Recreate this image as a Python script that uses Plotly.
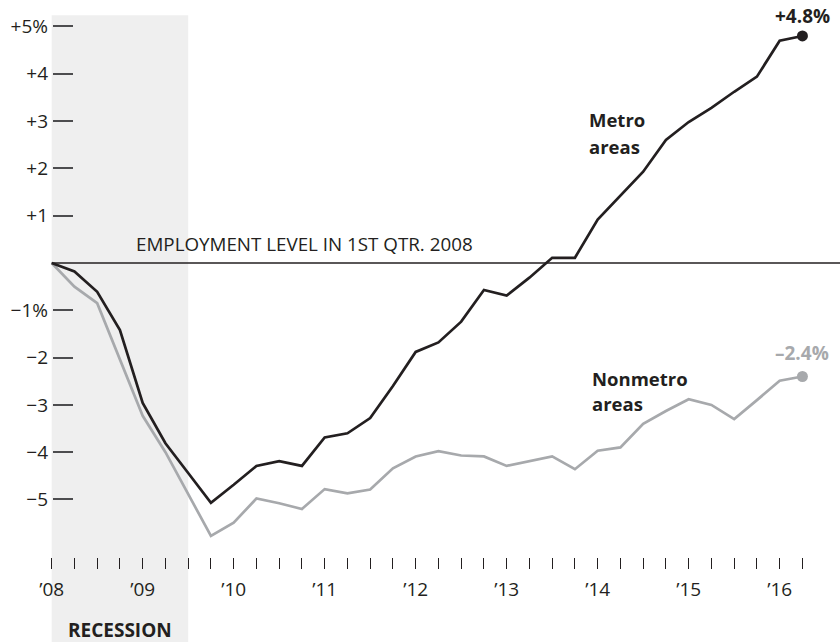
import plotly.graph_objects as go

quarters = [
    "2008Q1", "2008Q2", "2008Q3", "2008Q4",
    "2009Q1", "2009Q2", "2009Q3", "2009Q4",
    "2010Q1", "2010Q2", "2010Q3", "2010Q4",
    "2011Q1", "2011Q2", "2011Q3", "2011Q4",
    "2012Q1", "2012Q2", "2012Q3", "2012Q4",
    "2013Q1", "2013Q2", "2013Q3", "2013Q4",
    "2014Q1", "2014Q2", "2014Q3", "2014Q4",
    "2015Q1", "2015Q2", "2015Q3", "2015Q4",
    "2016Q1", "2016Q2",
]

metro = [
    0.00, -0.18, -0.61, -1.42, -2.96, -3.81, -4.44, -5.07,
    -4.69, -4.29, -4.19, -4.29, -3.69, -3.60, -3.28, -2.60,
    -1.88, -1.68, -1.24, -0.57, -0.69, -0.31, 0.11, 0.11,
    0.92, 1.42, 1.93, 2.60, 2.98, 3.28, 3.62, 3.94,
    4.70, 4.80,
]

nonmetro = [
    0.00, -0.50, -0.85, -2.02, -3.23, -4.00, -4.87, -5.77,
    -5.49, -4.98, -5.08, -5.20, -4.78, -4.87, -4.79, -4.34,
    -4.09, -3.98, -4.07, -4.09, -4.29, -4.19, -4.09, -4.36,
    -3.97, -3.90, -3.40, -3.13, -2.88, -3.00, -3.30, -2.90,
    -2.49, -2.40,
]

y_ticks = [-5, -4, -3, -2, -1, 1, 2, 3, 4, 5]
y_labels = ["\u22125", "\u22124", "\u22123", "\u22122", "\u22121%",
            "+1", "+2", "+3", "+4", "+5%"]

recession = ("2008Q1", "2009Q3")


def qpos(q):
    return int(q[:4]) + (int(q[-1]) - 1) / 4


x = [qpos(q) for q in quarters]
x_labels = ["\u2019" + q[2:4] if q.endswith("Q1") else "" for q in quarters]

BLACK = "#231f20"
GRAY = "#a7a9ac"
FONT = "Open Sans"

fig = go.Figure()

fig.add_trace(go.Scatter(x=x, y=nonmetro, mode="lines",
                         line=dict(color=GRAY, width=2.7), hoverinfo="skip"))
fig.add_trace(go.Scatter(x=x, y=metro, mode="lines",
                         line=dict(color=BLACK, width=2.7), hoverinfo="skip"))
fig.add_trace(go.Scatter(x=[x[-1]], y=[nonmetro[-1]], mode="markers",
                         marker=dict(color=GRAY, size=11), hoverinfo="skip"))
fig.add_trace(go.Scatter(x=[x[-1]], y=[metro[-1]], mode="markers",
                         marker=dict(color=BLACK, size=11), hoverinfo="skip"))

# recession band and baseline
fig.add_shape(type="rect", xref="x", yref="y",
              x0=qpos(recession[0]), x1=qpos(recession[1]), y0=-9, y1=5.24,
              fillcolor="#efefef", line_width=0, layer="below")
fig.add_shape(type="line", xref="x", yref="y",
              x0=x[0], x1=2017, y0=0, y1=0,
              line=dict(color=BLACK, width=1.3), layer="below")

ann = dict(showarrow=False, xref="x", yref="y")
fig.add_annotation(x=2008.90, y=0.40, text="EMPLOYMENT LEVEL IN 1ST QTR. 2008",
                   xanchor="left", font=dict(size=18.8, color=BLACK, family=FONT), **ann)
fig.add_annotation(x=2013.885, y=3.04, text="<b>Metro</b>", xanchor="left",
                   font=dict(size=18.5, color=BLACK, family=FONT), **ann)
fig.add_annotation(x=2013.885, y=2.47, text="<b>areas</b>", xanchor="left",
                   font=dict(size=18.5, color=BLACK, family=FONT), **ann)
fig.add_annotation(x=2013.915, y=-2.44, text="<b>Nonmetro</b>", xanchor="left",
                   font=dict(size=18.5, color=BLACK, family=FONT), **ann)
fig.add_annotation(x=2013.915, y=-2.98, text="<b>areas</b>", xanchor="left",
                   font=dict(size=18.5, color=BLACK, family=FONT), **ann)
fig.add_annotation(x=x[-1], y=5.22, text="<b>+%.1f%%</b>" % metro[-1],
                   font=dict(size=19, color=BLACK, family=FONT), **ann)
fig.add_annotation(x=x[-1], y=-1.90, text="<b>\u2013%.1f%%</b>" % abs(nonmetro[-1]),
                   font=dict(size=19, color=GRAY, family=FONT), **ann)
fig.add_annotation(x=2008.75, y=-7.76, text="<b>RECESSION</b>",
                   font=dict(size=19, color=BLACK, family=FONT), **ann)

fig.update_layout(
    width=840, height=642,
    margin=dict(l=0, r=0, t=0, b=0),
    paper_bgcolor="white", plot_bgcolor="white",
    showlegend=False,
    font=dict(family=FONT, size=19, color=BLACK),
    xaxis=dict(range=[2007.432, 2016.663], anchor="free", position=1 - 557 / 642,
               tickvals=x, ticktext=x_labels, ticks="outside", ticklen=11,
               tickwidth=1.2, tickcolor=BLACK, showgrid=False, zeroline=False,
               showline=False, fixedrange=True, ticklabelstandoff=4),
    yaxis=dict(range=[-8.013, 5.560], anchor="free", position=52 / 840,
               tickvals=y_ticks, ticktext=y_labels, ticks="inside", ticklen=20,
               tickwidth=1.5, tickcolor="#4d4d4f", showgrid=False, zeroline=False,
               showline=False, fixedrange=True, ticklabelstandoff=4),
)

fig.write_html("out.html", config={"displayModeBar": False},
               post_script="document.body.style.margin='0';")
